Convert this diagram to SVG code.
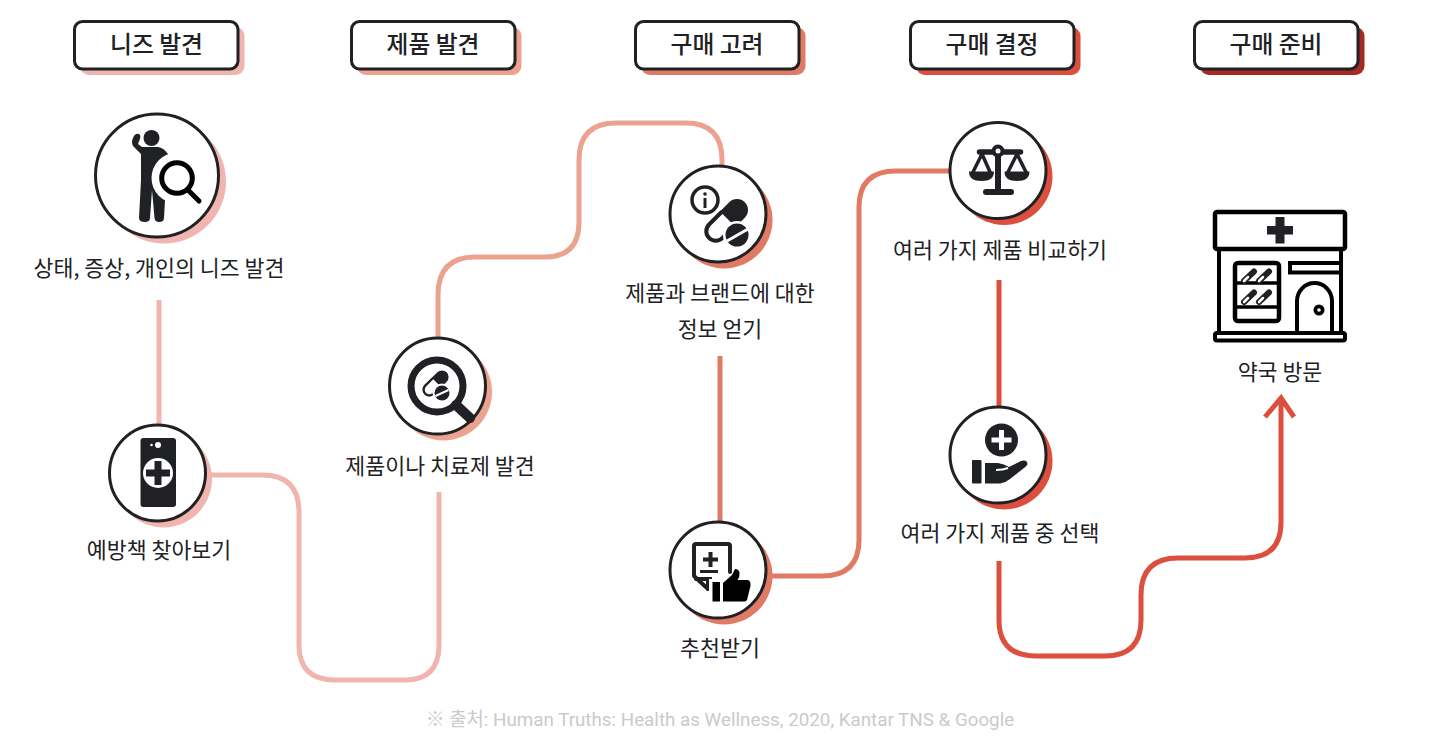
<svg xmlns="http://www.w3.org/2000/svg" width="1440" height="750" viewBox="0 0 1440 750">
<style>
text{font-family:"Noto Sans CJK KR","Noto Sans",sans-serif;text-anchor:middle;fill:#202124}
.h{font-size:23.800px;font-weight:500}
.l{font-size:21.700px;font-weight:400}
.f{font-size:18.800px;fill:#c8cacf;font-family:"Roboto","Noto Sans CJK KR",sans-serif}
.box{fill:#fff;stroke:#202124;stroke-width:3}
.c{fill:#fff;stroke:#202124;stroke-width:3}
.con{fill:none;stroke-width:5}
.d{fill:#202124}
.k{fill:#000}
.w{fill:#fff}
.ln{fill:none;stroke:#202124;stroke-linecap:round;stroke-linejoin:round}
.p1{fill:#efb5ae}.p2{fill:#eba38f}.p3{fill:#e07a64}.p4{fill:#dc4f3e}.p5{fill:#a52a22}
</style>
<defs>
<g id="capsule">
<path class="d" d="M13 -11H0A11 11 0 0 0 0 11H13Z"/>
<path class="ln" stroke-width="4" d="M13 -9.500H30A9.500 9.500 0 0 1 30 9.500H13"/>
</g>
</defs>
<g id="connectors">
<path class="con" stroke="#efb5ae" d="M159 300V424"/>
<path class="con" stroke="#efb5ae" d="M207 475H262Q299 475 299 512V645Q299 680 335 680H405Q439 680 439 645V492"/>
<path class="con" stroke="#eba38f" d="M438 337V295Q438 257 475 257H545Q579 257 579 222V160Q579 123 616 123H686Q722 123 722 160V165"/>
<path class="con" stroke="#e07a64" d="M720 356V521"/>
<path class="con" stroke="#e07a64" d="M767 576H822Q859 576 859 540V207Q859 171 896 171H949"/>
<path class="con" stroke="#dc4f3e" d="M999 280V406"/>
<path class="con" stroke="#dc4f3e" d="M999 561V620Q999 656 1036 656H1105Q1141 656 1141 620V595Q1141 558 1178 558H1245Q1281 558 1281 522V399M1265 417L1281 398L1294 417"/>
</g>
<g id="stage-1"><rect class="p1" x="80" y="27" width="164.500" height="48" rx="9"/><rect class="box" x="74.500" y="21.500" width="163.500" height="47.500" rx="8"/><text class="h" x="156.500" y="53">니즈 발견</text></g>
<g id="stage-2"><rect class="p2" x="357" y="27" width="164.500" height="48" rx="9"/><rect class="box" x="351.500" y="21.500" width="163.500" height="47.500" rx="8"/><text class="h" x="433" y="53">제품 발견</text></g>
<g id="stage-3"><rect class="p3" x="641" y="27" width="164.500" height="48" rx="9"/><rect class="box" x="635.500" y="21.500" width="163.500" height="47.500" rx="8"/><text class="h" x="717" y="53">구매 고려</text></g>
<g id="stage-4"><rect class="p4" x="916" y="27" width="164.500" height="48" rx="9"/><rect class="box" x="910.500" y="21.500" width="163.500" height="47.500" rx="8"/><text class="h" x="992" y="53">구매 결정</text></g>
<g id="stage-5"><rect class="p5" x="1200" y="27" width="164.500" height="48" rx="9"/><rect class="box" x="1194.500" y="21.500" width="163.500" height="47.500" rx="8"/><text class="h" x="1276" y="53">구매 준비</text></g>

<g id="node-needs">
<circle class="p1" cx="164" cy="181.500" r="62"/><circle class="c" cx="157" cy="175.500" r="61.500"/>
<circle class="d" cx="151.500" cy="138" r="8"/>
<path class="d" d="M141 154L133 146Q131 142 133 138Q135 133 139 134Q141 135 140 139L138 144L142 147H158Q164 148 168 154L165 200L164 218Q164 222 159 222Q155 222 154.500 218L152 190L150 218Q150 222 145 222Q139 222 139 218L141 180Z"/>
<circle class="w" cx="177" cy="178" r="25.500"/>
<circle cx="177" cy="178" r="15.300" fill="#fff" stroke="#000" stroke-width="5"/>
<path d="M188 190L199 201" stroke="#000" stroke-width="5" stroke-linecap="round"/>
<text class="l" x="159" y="276">상태, 증상, 개인의 니즈 발견</text>
</g>

<g id="node-prevention">
<circle class="p1" cx="163.500" cy="479" r="48.500"/><circle class="c" cx="157.500" cy="473" r="48"/>
<rect class="d" x="140.500" y="438" width="35.500" height="69" rx="3"/>
<circle class="w" cx="158" cy="445" r="3"/><circle class="w" cx="151.500" cy="445" r="1.300"/>
<circle class="w" cx="158" cy="473" r="15"/>
<path class="d" d="M154.500 461H161.500V469.500H170V476.500H161.500V485H154.500V476.500H146V469.500H154.500Z"/>
<text class="l" x="159" y="558">예방책 찾아보기</text>
</g>

<g id="node-product">
<circle class="p2" cx="443.500" cy="392" r="48.500"/><circle class="c" cx="437.500" cy="386" r="48"/>
<circle cx="437" cy="386" r="26" fill="none" stroke="#202124" stroke-width="7"/>
<path d="M456 405L470 418" stroke="#202124" stroke-width="10" stroke-linecap="round"/>
<use href="#capsule" transform="translate(442 377) rotate(135) scale(.6)"/>
<circle class="w" cx="442" cy="393" r="9.500"/>
<circle class="d" cx="442" cy="393" r="7.500"/>
<path d="M435.500 396L448.500 390" stroke="#fff" stroke-width="2"/>
<text class="l" x="440" y="474">제품이나 치료제 발견</text>
</g>

<g id="node-info">
<circle class="p3" cx="724" cy="220" r="48.500"/><circle class="c" cx="718" cy="214" r="48"/>
<circle cx="705" cy="200" r="13" fill="none" stroke="#202124" stroke-width="3.500"/>
<circle class="d" cx="705" cy="194" r="1.800"/><path class="d" d="M703.500 198H706.500V208H703.500Z"/>
<use href="#capsule" transform="translate(737 210) rotate(135)"/>
<circle class="w" cx="737" cy="235" r="14"/>
<circle class="d" cx="737" cy="235" r="11.500"/>
<path d="M727 241L748 229" stroke="#fff" stroke-width="3"/>
<text class="l" x="720" y="301">제품과 브랜드에 대한</text>
<text class="l" x="720" y="337">정보 얻기</text>
</g>

<g id="node-recommend">
<circle class="p3" cx="724" cy="576" r="48.500"/><circle class="c" cx="718" cy="570" r="48"/>
<path class="ln" stroke-width="4" d="M708 589L694 576V546Q694 544 696 544H728Q730 544 730 546V572"/>
<path class="ln" stroke-width="4" d="M708 589V579H696M708 589H711"/>
<path class="d" d="M708.500 552H712.500V557.500H718V561.500H712.500V567H708.500V561.500H703V557.500H708.500Z"/>
<path class="d" d="M700 570H718V573H700ZM700 577H712V580H700Z"/>
<rect class="w" x="709" y="579" width="13" height="24"/>
<rect class="k" x="712.500" y="582" width="7.500" height="19.500"/>
<path class="k" d="M723 583L732 575L735 569Q739 569 739.500 573Q740 577 737.500 580H748Q751 581 750.500 586L747 600Q746 601.500 744 601.500H723Z"/>
<text class="l" x="720" y="656">추천받기</text>
</g>

<g id="node-compare">
<circle class="p4" cx="1004" cy="176.500" r="48.500"/><circle class="c" cx="998" cy="170.500" r="48"/>
<path class="ln" stroke-width="5.500" d="M979.500 152H1020.500"/>
<path class="d" d="M995 150H1001V192H995Z"/>
<circle class="d" cx="998" cy="151" r="6.500"/><circle class="w" cx="998" cy="151" r="2.500"/>
<path class="ln" stroke-width="6" d="M986 192H1011"/>
<path class="ln" stroke-width="3.500" d="M982 154L973 172M982 154L990 172M1017 154L1008 172M1017 154L1026 172"/>
<path class="d" d="M969 171.500H994Q994 181 981.500 181Q969 181 969 171.500ZM1004.500 171.500H1029.500Q1029.500 181 1017 181Q1004.500 181 1004.500 171.500Z"/>
<text class="l" x="1000" y="258">여러 가지 제품 비교하기</text>
</g>

<g id="node-select">
<circle class="p4" cx="1004" cy="461" r="48.500"/><circle class="c" cx="998" cy="455" r="48"/>
<circle class="d" cx="1001.500" cy="440" r="16.500"/>
<path class="w" d="M999 430H1004V437.500H1011.500V442.500H1004V450H999V442.500H991.500V437.500H999Z"/>
<rect class="d" x="972" y="460" width="9.500" height="23.500" rx="1"/>
<path class="d" d="M985 463H998Q1004 464 1009 467L1021 461Q1027 459 1027.500 464Q1027 466 1024 468L1010 479Q1005 483 1000 483.500H985Z"/>
<path d="M996 470Q1003 470 1008 468" fill="none" stroke="#fff" stroke-width="2"/>
<text class="l" x="1000" y="541">여러 가지 제품 중 선택</text>
</g>

<g id="node-pharmacy">
<path d="M1219 250V332M1341 250V332" fill="none" stroke="#000" stroke-width="4"/>
<rect x="1215" y="212" width="130" height="37" rx="2" fill="#fff" stroke="#000" stroke-width="4.500"/>
<path class="d" d="M1275.500 217H1284.500V226H1293V234.500H1284.500V243.500H1275.500V234.500H1267V226H1275.500Z"/>
<rect x="1235" y="263" width="44" height="58" rx="3" fill="#fff" stroke="#000" stroke-width="4.500"/>
<path d="M1235 283H1279M1235 307H1279" stroke="#000" stroke-width="3.500"/>
<g fill="none" stroke-linecap="round">
<path stroke="#202124" stroke-width="6" d="M1244 281L1254 271.500M1259 281L1269 271.500M1244 302L1254 292.500M1259 302L1269 292.500"/>
<path stroke="#fff" stroke-width="2.500" d="M1244 281L1248 277M1259 281L1263 277M1244 302L1248 298M1259 302L1263 298"/>
</g>
<path d="M1290 263H1341V272.500H1290Z" fill="#fff" stroke="#000" stroke-width="4"/>
<path d="M1297 332V301A17.500 18 0 0 1 1332 301V332" fill="#fff" stroke="#000" stroke-width="4"/>
<circle class="k" cx="1319" cy="310" r="5.500"/><circle class="w" cx="1319" cy="310" r="1.800"/>
<rect x="1215" y="333" width="130" height="7.500" rx="2" fill="#fff" stroke="#000" stroke-width="4"/>
<text class="l" x="1280" y="380">약국 방문</text>
</g>
<text id="source" class="f" x="720" y="726">※ 출처: Human Truths: Health as Wellness, 2020, Kantar TNS &amp; Google</text>
</svg>
